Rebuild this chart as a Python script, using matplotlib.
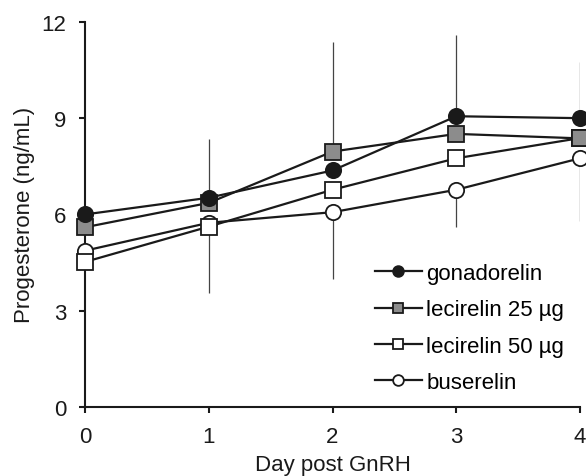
import matplotlib
matplotlib.use("Agg")
import matplotlib.pyplot as plt

plt.rcParams['font.family'] = ['Liberation Sans', 'DejaVu Sans']

# data
days = [0, 1, 2, 3, 4]
series_names = ['gonadorelin', 'lecirelin 25 \u00b5g', 'lecirelin 50 \u00b5g', 'buserelin']
gonadorelin = [6.0, 6.52, 7.37, 9.06, 9.0]
lecirelin25 = [5.6, 6.36, 7.96, 8.51, 8.37]
lecirelin50 = [4.52, 5.62, 6.77, 7.75, 8.38]
buserelin = [4.87, 5.74, 6.07, 6.77, 7.75]

# one-sided error bars (upper on top series, lower on bottom series)
gonadorelin_up = [0, 1.83, 0, 2.54, 1.76]
lecirelin25_up = [0, 0, 3.42, 0, 0]
buserelin_down = [0, 2.19, 2.08, 1.16, 1.94]

fig = plt.figure(figsize=(5.86, 4.77), dpi=100)
ax = fig.add_axes([0.145, 0.1447, 0.845, 0.8073])

errcol = '#444444'
ax.errorbar(days, gonadorelin, yerr=[[0] * 5, gonadorelin_up], fmt='none',
            ecolor=errcol, elinewidth=0.9, capsize=0, zorder=1)
ax.errorbar(days, lecirelin25, yerr=[[0] * 5, lecirelin25_up], fmt='none',
            ecolor=errcol, elinewidth=0.9, capsize=0, zorder=1)
ax.errorbar(days, buserelin, yerr=[buserelin_down, [0] * 5], fmt='none',
            ecolor=errcol, elinewidth=0.9, capsize=0, zorder=1)

styles = [
    (buserelin, 'o', 'white', series_names[3]),
    (lecirelin50, 's', 'white', series_names[2]),
    (lecirelin25, 's', '#8c8c8c', series_names[1]),
    (gonadorelin, 'o', '#1a1a1a', series_names[0]),
]
handles = {}
for vals, mk, fc, name in styles:
    h, = ax.plot(days, vals, color='#1a1a1a', lw=1.6, marker=mk, ms=11,
                 mfc=fc, mec='#1a1a1a', mew=1.3, clip_on=False, zorder=3, label=name)
    handles[name] = h

ax.set_xlim(0, 4)
ax.set_ylim(0, 12)
ax.set_xticks(days)
ax.set_yticks([0, 3, 6, 9, 12])
ax.spines['top'].set_visible(False)
ax.spines['right'].set_visible(False)
for s in ['left', 'bottom']:
    ax.spines[s].set_linewidth(1.5)
    ax.spines[s].set_color('#1a1a1a')
ax.tick_params(direction='out', length=4, width=1.5, colors='#1a1a1a',
               labelsize=16, pad=9.5, labelcolor='#1a1a1a')
ax.set_xlabel('Day post GnRH', fontsize=16, color='#1a1a1a', labelpad=5)
ax.set_ylabel('Progesterone (ng/mL)', fontsize=16, color='#1a1a1a', labelpad=4.5)

ax.legend([handles[n] for n in series_names], series_names, loc='upper left',
          bbox_to_anchor=(0.586, 0.374), frameon=False, fontsize=16,
          markerscale=0.7, handlelength=2.1, handletextpad=0.2,
          labelspacing=0.69, borderaxespad=0, borderpad=0)

fig.savefig('out.png', dpi=100)
